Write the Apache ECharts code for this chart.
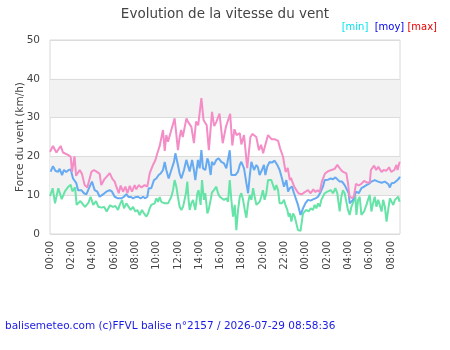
<!DOCTYPE html>
<html>
<head>
<meta charset="utf-8">
<script src="https://cdn.jsdelivr.net/npm/echarts@6/dist/echarts.min.js"></script>
<style>
  html, body { margin: 0; padding: 0; background: #fff; }
  #chart { width: 450px; height: 350px; }
</style>
</head>
<body>
<div id="chart"></div>
<script>
// hours since 00:00 on day 1, km/h
const maxSeries = [[0,21.2],[0.28,22.7],[0.6,21],[1.0,22.7],[1.22,21],[1.38,21.5],[1.69,20.4],[1.94,19.9],[2.06,16],[2.3,20],[2.45,15],[2.56,15.5],[2.78,16.5],[3.0,15.5],[3.25,12.6],[3.5,12],[3.88,16],[4.13,16.5],[4.4,16],[4.66,15.5],[4.81,12.6],[5.07,14],[5.38,15],[5.6,15.7],[5.85,14.2],[6.07,13.5],[6.25,12],[6.45,10.5],[6.63,12.5],[6.85,10.9],[7.07,12.2],[7.26,10.5],[7.48,12.4],[7.69,10.9],[7.94,12.6],[8.1,11.5],[8.32,12.6],[8.57,12],[8.88,12.6],[9.13,12.2],[9.35,15.6],[9.66,17.8],[9.88,19],[10.07,20.8],[10.29,22.7],[10.44,24.7],[10.6,26.8],[10.76,21.4],[10.91,25.5],[11.07,23.8],[11.38,26.8],[11.69,29.8],[11.8,27],[12.0,21.6],[12.16,25],[12.3,26.8],[12.45,25],[12.8,29.8],[12.95,28.9],[13.26,27.6],[13.5,23.4],[13.7,29],[13.9,28],[14.2,35],[14.4,29.4],[14.7,28],[14.9,21.6],[15.2,31.5],[15.4,27.8],[15.6,28.9],[15.9,31],[16.2,23.4],[16.5,27.6],[16.9,31],[17.1,22.8],[17.3,27],[17.5,25.5],[17.8,26],[17.95,23.1],[18.2,25.5],[18.5,17],[18.8,25],[19.0,25.8],[19.35,25],[19.6,21.6],[19.8,23],[20.0,20.8],[20.1,22],[20.45,25.5],[20.8,24.4],[21.1,24.4],[21.4,24],[21.6,21.9],[21.86,19.9],[22.1,16],[22.3,17],[22.5,13.9],[22.6,14.5],[22.9,12.2],[23.3,10.5],[23.6,10.2],[23.9,10.8],[24.2,11.3],[24.45,10.5],[24.7,11.5],[24.9,10.8],[25.1,11.3],[25.3,10.8],[25.5,13.5],[25.8,15.6],[26.1,16.2],[26.4,16.5],[26.7,16.8],[26.95,17.8],[27.3,16.5],[27.5,16],[27.8,15.6],[27.95,13.1],[28.1,9.6],[28.3,9.3],[28.5,9.6],[28.7,12.9],[28.96,12.5],[29.2,12.9],[29.46,13.7],[29.7,13.3],[30.0,13.3],[30.1,16.5],[30.4,17.6],[30.6,16.5],[30.8,17.3],[31.1,16],[31.3,16.5],[31.55,16.3],[31.8,17.2],[32.0,16],[32.3,16.5],[32.5,17.8],[32.6,16.5],[32.8,18.6]];

const moySeries = [[0.06,16.1],[0.28,17.5],[0.5,16.3],[0.75,16],[0.9,16.8],[1.13,15.2],[1.31,16.5],[1.53,16],[1.75,16.5],[1.94,16.6],[2.16,14.3],[2.3,13.8],[2.47,13.1],[2.63,11.3],[2.78,11.8],[2.94,11.3],[3.19,10.5],[3.41,10.2],[3.72,12.2],[3.94,13.5],[4.19,11.3],[4.44,10.9],[4.66,9.6],[4.97,10.2],[5.28,10.9],[5.6,11.3],[5.82,10.9],[6.07,9.6],[6.38,9.2],[6.69,9.2],[6.94,9.6],[7.16,10.3],[7.38,9.5],[7.57,9.6],[7.79,9.2],[8.0,9.5],[8.25,9.6],[8.5,9.2],[8.72,9.6],[8.94,9.2],[9.13,9.6],[9.26,11.8],[9.5,11.8],[9.75,13.9],[9.97,14.3],[10.19,15.2],[10.38,15.6],[10.6,16.5],[10.76,18.6],[10.91,16.5],[11.13,14.3],[11.38,16.5],[11.63,18.6],[11.76,20.8],[12.0,17.8],[12.16,15.6],[12.32,14.3],[12.57,16.5],[12.79,19.1],[12.94,19.5],[13.1,16.1],[13.33,19.1],[13.5,16.5],[13.63,13.9],[13.88,19.1],[14.04,16.9],[14.2,21.6],[14.35,16.9],[14.57,16.5],[14.76,19.5],[14.88,18.6],[15.07,15.2],[15.19,18.6],[15.38,17.8],[15.6,19.1],[15.82,19.5],[16.07,18.6],[16.32,18.2],[16.54,16.9],[16.7,17.4],[16.86,21.6],[17.0,15.2],[17.17,14.8],[17.39,15.2],[17.64,16.1],[17.8,17.8],[17.95,18.6],[18.2,16.9],[18.42,13.1],[18.58,10.5],[18.73,14.8],[18.89,18.6],[19.14,16.5],[19.36,17.8],[19.5,17.2],[19.66,15.2],[19.88,16.5],[20.07,17.8],[20.2,15.2],[20.38,17.4],[20.6,18.6],[20.82,18.4],[21.07,18.9],[21.32,17.8],[21.54,16.5],[21.76,14.3],[21.95,12.2],[22.17,13.9],[22.33,10.9],[22.48,11.8],[22.7,12.2],[22.89,10.5],[23.1,8.8],[23.26,7.5],[23.5,4.9],[23.73,6.6],[23.95,7.9],[24.2,8.8],[24.45,8.6],[24.67,8.9],[24.9,9.2],[25.14,9.6],[25.4,10.9],[25.6,12.2],[25.77,13.9],[26.08,14.0],[26.33,14.3],[26.55,14.1],[26.77,14.6],[26.95,14.8],[27.17,13.5],[27.39,13.5],[27.64,12.6],[27.8,12.2],[28.02,10.5],[28.11,7.9],[28.27,7.5],[28.42,8.8],[28.58,10.1],[28.74,10.9],[28.96,10.5],[29.21,11.8],[29.46,12.2],[29.68,12.6],[29.9,12.9],[30.15,13.5],[30.46,13.9],[30.78,13.5],[31.1,13.2],[31.41,13.5],[31.72,12.9],[31.88,12.0],[32.04,13.1],[32.29,13.2],[32.51,13.7],[32.73,14.3],[32.82,14.8]];

const minSeries = [[0,9.8],[0.25,11.8],[0.47,7.9],[0.78,11.8],[1.1,9],[1.4,11],[1.72,12.2],[1.94,12.7],[2.1,11],[2.22,11.5],[2.35,12],[2.5,7.5],[2.66,7],[2.85,8.5],[2.97,8],[3.28,7],[3.6,8],[3.81,9.6],[4.06,7.5],[4.32,8.5],[4.53,7],[4.85,6.8],[5.07,7],[5.32,5.8],[5.63,7.4],[5.9,7],[6.13,7.2],[6.38,6.2],[6.54,7.5],[6.76,8.8],[6.94,6.6],[7.16,7.9],[7.38,7.0],[7.57,6.2],[7.79,7.0],[8.0,5.8],[8.19,6.2],[8.41,4.9],[8.63,6.2],[8.82,5.3],[9.04,4.5],[9.2,5.3],[9.35,6.6],[9.5,7.5],[9.66,7.0],[9.82,7.9],[9.97,9.2],[10.13,8.3],[10.29,9.5],[10.44,8.3],[10.6,8.8],[10.76,7.9],[10.91,8.3],[11.07,7.9],[11.23,8.3],[11.38,9.6],[11.54,11.3],[11.69,13.9],[11.85,12.2],[12.0,9.6],[12.16,7.0],[12.32,6.2],[12.48,7.0],[12.63,7.5],[12.75,10.5],[12.88,13.5],[13.0,8.8],[13.1,6.2],[13.26,7.9],[13.41,8.8],[13.63,6.2],[13.82,10.5],[13.94,11.3],[14.13,7.5],[14.26,13.9],[14.44,8.8],[14.57,10.5],[14.76,5.3],[14.88,6.2],[15.07,8.8],[15.19,10.7],[15.38,11.3],[15.6,12.2],[15.76,10.5],[15.92,9.6],[16.07,9.2],[16.32,8.8],[16.54,9.2],[16.7,8.3],[16.86,13.9],[17.01,8.8],[17.17,4.5],[17.33,7.5],[17.48,1.0],[17.64,6.2],[17.8,9.6],[17.95,10.5],[18.11,8.8],[18.27,6.2],[18.42,4.2],[18.58,7.9],[18.73,10.1],[18.89,8.8],[19.05,11.8],[19.2,9.6],[19.36,7.5],[19.5,8],[19.66,8.3],[19.82,9.6],[19.97,11.3],[20.13,8.8],[20.29,10.5],[20.45,13.9],[20.6,13.5],[20.76,13.9],[20.92,12.6],[21.07,11.3],[21.23,12.6],[21.39,11.3],[21.54,7.9],[21.76,7.9],[21.95,8.8],[22.08,7.5],[22.26,6.2],[22.39,4.5],[22.51,5.3],[22.64,3.2],[22.8,5.3],[22.95,4.5],[23.1,4.9],[23.26,1.0],[23.5,0.8],[23.73,5.3],[23.89,5.8],[24.04,6.2],[24.26,5.8],[24.45,6.6],[24.67,6.2],[24.82,7.5],[24.98,6.6],[25.14,7.9],[25.3,7.0],[25.45,8.8],[25.6,9.6],[25.77,10.5],[26.02,10.9],[26.2,10.7],[26.33,11.3],[26.55,10.5],[26.77,11.8],[26.95,10.5],[27.17,5.8],[27.33,9.6],[27.48,11.3],[27.64,10.5],[27.8,10.9],[27.95,6.2],[28.11,4.9],[28.27,7.0],[28.42,7.5],[28.52,8.8],[28.64,10.1],[28.74,4.9],[28.9,8.8],[29.05,9.6],[29.21,4.9],[29.46,5.8],[29.68,7.5],[29.83,8.8],[29.99,10.1],[30.15,5.8],[30.3,7.9],[30.46,9.6],[30.62,7.0],[30.78,8.8],[30.93,7.5],[31.1,5.8],[31.25,8.8],[31.41,7.0],[31.57,3.2],[31.72,6.2],[31.88,9.2],[32.04,8.3],[32.2,7.5],[32.35,8.8],[32.51,8.3],[32.66,9.6],[32.79,8.3]];

const hourSpan = 32.83;
const yTicks = [0, 50, 10];
const footer = 'balisemeteo.com (c)FFVL balise n°2157 / 2026-07-29 08:58:36';

const font = 'DejaVu Sans';

function hourLabel(v) {
  const h = Math.round(v) % 24;
  return (h < 10 ? '0' : '') + h + ':00';
}

const chart = echarts.init(document.getElementById('chart'));
chart.setOption({
  animation: false,
  title: [
    {
      text: 'Evolution de la vitesse du vent',
      left: 'center',
      top: 2,
      textStyle: { fontFamily: font, fontSize: 13.5, fontWeight: 'normal', color: '#444' }
    },
    {
      text: '{a|[min]}  {b|[moy]} {c|[max]}',
      right: 8,
      top: 17,
      textStyle: {
        fontFamily: font, fontSize: 10, fontWeight: 'normal',
        rich: {
          a: { fontFamily: font, fontSize: 10, color: '#00e5ee' },
          b: { fontFamily: font, fontSize: 10, color: '#0000ee' },
          c: { fontFamily: font, fontSize: 10, color: '#ee0000' }
        }
      }
    },
    {
      text: footer,
      left: 0,
      top: 316,
      textStyle: { fontFamily: font, fontSize: 10.5, fontWeight: 'normal', color: '#1a1ae6' }
    }
  ],
  grid: {
    left: 50, right: 50, top: 40, bottom: 116,
    show: true, borderColor: '#d8d8d8', borderWidth: 1
  },
  xAxis: {
    type: 'value',
    min: 0,
    max: hourSpan,
    interval: 2,
    axisLine: { show: false },
    axisTick: { show: false },
    splitLine: { show: false },
    axisLabel: {
      rotate: 90,
      fontFamily: font,
      fontSize: 10,
      color: '#444',
      margin: 7,
      showMaxLabel: false,
      formatter: hourLabel
    }
  },
  yAxis: {
    type: 'value',
    min: yTicks[0],
    max: yTicks[1],
    interval: yTicks[2],
    name: 'Force du vent (km/h)',
    nameLocation: 'middle',
    nameGap: 24,
    nameMoveOverlap: false,
    nameTextStyle: { fontFamily: font, fontSize: 10.5, color: '#444' },
    axisLine: { show: false },
    axisTick: { show: false },
    axisLabel: { fontFamily: font, fontSize: 10.5, color: '#444', margin: 10 },
    splitLine: { lineStyle: { color: '#dcdcdc' } },
    splitArea: { show: true, areaStyle: { color: ['rgba(255,255,255,0)', '#f2f2f2'] } }
  },
  series: [
    {
      name: 'min', type: 'line', data: minSeries, showSymbol: false,
      lineStyle: { color: '#66e3a6', width: 2 }
    },
    {
      name: 'moy', type: 'line', data: moySeries, showSymbol: false,
      lineStyle: { color: '#66aaf2', width: 2 }
    },
    {
      name: 'max', type: 'line', data: maxSeries, showSymbol: false,
      lineStyle: { color: '#f48cc6', width: 2 }
    }
  ]
});
</script>
</body>
</html>
